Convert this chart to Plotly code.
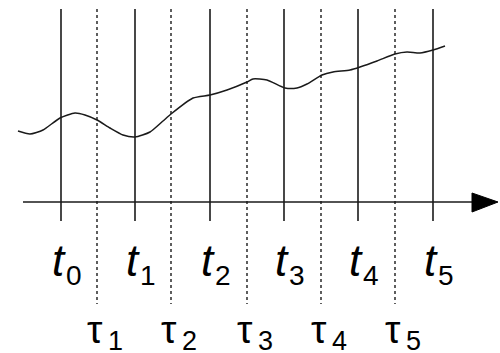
import plotly.graph_objects as go

# tick positions (time points) and intermediate points
t_pos = [61, 135, 210, 284, 358, 433]
tau_pos = [97, 171, 247, 321, 395]
t_labels = ["0", "1", "2", "3", "4", "5"]
tau_labels = ["1", "2", "3", "4", "5"]

# wavy curve
curve_x = [18, 30, 43, 60, 75, 85, 97, 110, 123, 135, 150, 163, 171, 193, 210, 227, 247, 253, 267, 285, 297, 307, 322, 333, 350, 360, 377, 395, 407, 420, 433, 445]
curve_y = [131, 134, 130, 118, 113, 115, 120, 128, 135, 137, 132, 121, 114, 98, 95, 90, 82, 79, 80, 88, 88, 84, 75, 72, 70, 67, 61, 54, 52, 53, 50, 46]

axis_y = 202
top_y = 9
solid_bottom = 221
dotted_bottom = 304

fig = go.Figure()

# solid vertical lines
sx, sy = [], []
for x in t_pos:
    sx += [x, x, None]
    sy += [top_y, solid_bottom, None]
fig.add_trace(go.Scatter(x=sx, y=sy, mode="lines", line=dict(color="#1a1a1a", width=1.6), hoverinfo="skip"))

# dotted vertical lines
dx, dy = [], []
for x in tau_pos:
    dx += [x, x, None]
    dy += [top_y, dotted_bottom, None]
fig.add_trace(go.Scatter(x=dx, y=dy, mode="lines", line=dict(color="#1a1a1a", width=1.4, dash="dot"), hoverinfo="skip"))

# horizontal axis
fig.add_trace(go.Scatter(x=[23, 480], y=[axis_y, axis_y], mode="lines", line=dict(color="#1a1a1a", width=1.5), hoverinfo="skip"))
# arrow head
fig.add_trace(go.Scatter(x=[472, 498, 472, 472], y=[193, axis_y, 212, 193], mode="lines", fill="toself",
                         fillcolor="black", line=dict(color="black", width=1), hoverinfo="skip"))

# curve
fig.add_trace(go.Scatter(x=curve_x, y=curve_y, mode="lines", line=dict(color="#1a1a1a", width=1.5, shape="spline", smoothing=0.6), hoverinfo="skip"))

font_main = "Liberation Sans, Arial, sans-serif"
ann = []
for x, lab in zip(t_pos, t_labels):
    ann.append(dict(x=x - 2, y=260, text="<i>t</i>", showarrow=False, xanchor="center", yanchor="middle",
                    font=dict(family=font_main, size=44, color="black")))
    ann.append(dict(x=x + 13, y=275, text=lab, showarrow=False, xanchor="center", yanchor="middle",
                    font=dict(family=font_main, size=28, color="black")))
for x, lab in zip(tau_pos, tau_labels):
    ann.append(dict(x=x - 2, y=329, text="τ", showarrow=False, xanchor="center", yanchor="middle",
                    font=dict(family=font_main, size=39, color="black")))
    ann.append(dict(x=x + 18, y=341, text=lab, showarrow=False, xanchor="center", yanchor="middle",
                    font=dict(family=font_main, size=27, color="black")))

fig.update_layout(
    width=500, height=353, margin=dict(l=0, r=0, t=0, b=0),
    paper_bgcolor="white", plot_bgcolor="white", showlegend=False,
    xaxis=dict(range=[0, 500], visible=False, fixedrange=True),
    yaxis=dict(range=[353, 0], visible=False, fixedrange=True),
    annotations=ann,
)
fig.write_html("out.html")
